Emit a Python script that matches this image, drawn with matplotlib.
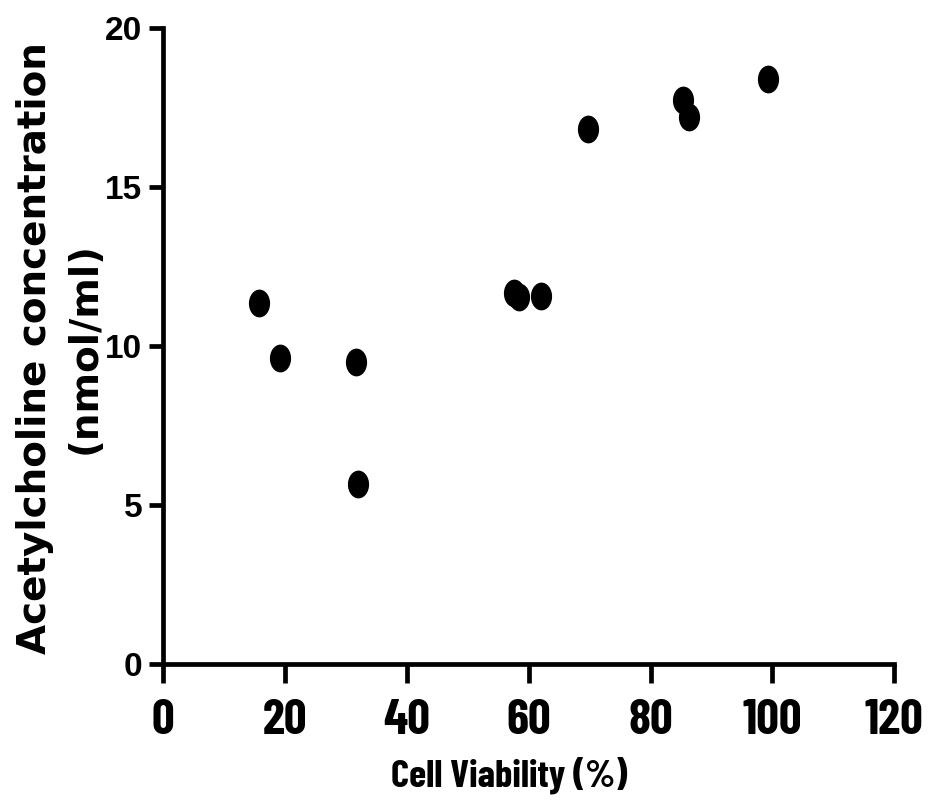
import numpy as np
import matplotlib
matplotlib.use('Agg')
import matplotlib.pyplot as plt
from matplotlib.path import Path
from matplotlib.transforms import Affine2D

# data
viability = [15.8, 19.2, 31.6, 32.0, 57.6, 58.4, 62.0, 69.7, 85.3, 86.3, 99.3]
acetylcholine = [11.36, 9.61, 9.51, 5.66, 11.66, 11.53, 11.57, 16.83, 17.74, 17.19, 18.40]

x_ticks = [0, 20, 40, 60, 80, 100, 120]
y_ticks = [0, 5, 10, 15, 20]

narrow = ['Barlow Condensed', 'DejaVu Sans']
arial = ['Liberation Sans', 'DejaVu Sans']

# slightly tall ellipse marker like the original
ellipse = Path.unit_circle().transformed(Affine2D().scale(0.75, 1.0))

fig = plt.figure(figsize=(9.32, 8.09), dpi=100)
ax = fig.add_axes([0.1749, 0.1792, 0.7846, 0.7862])

ax.plot(viability, acetylcholine, linestyle='none', marker=ellipse,
        markersize=19, color='black', clip_on=False)

ax.set_xlim(0, 120)
ax.set_ylim(0, 20)
ax.set_xticks(x_ticks)
ax.set_yticks(y_ticks)

for side in ['top', 'right']:
    ax.spines[side].set_visible(False)
for side in ['left', 'bottom']:
    ax.spines[side].set_linewidth(3.4)
    ax.spines[side].set_capstyle('projecting')

ax.tick_params(axis='x', length=14, width=3.4, pad=11)
ax.tick_params(axis='y', length=10, width=3.4, pad=5)

for lab in ax.get_xticklabels():
    lab.set_family(narrow)
    lab.set_fontweight('bold')
    lab.set_fontsize(36)
for lab in ax.get_yticklabels():
    lab.set_family(arial)
    lab.set_fontweight('bold')
    lab.set_fontsize(24)

fig.text(509 / 932, 1 - 775 / 809, 'Cell Viability (%)', family=narrow,
         fontweight='bold', fontsize=28, ha='center', va='center')
fig.text(60 / 932, 1 - 348 / 809, 'Acetylcholine concentration\n(nmol/ml)',
         family=['DejaVu Sans'], fontweight='bold', fontsize=28,
         rotation=90, ha='center', va='center', multialignment='center',
         linespacing=1.4)

fig.savefig('out.png', dpi=100)
